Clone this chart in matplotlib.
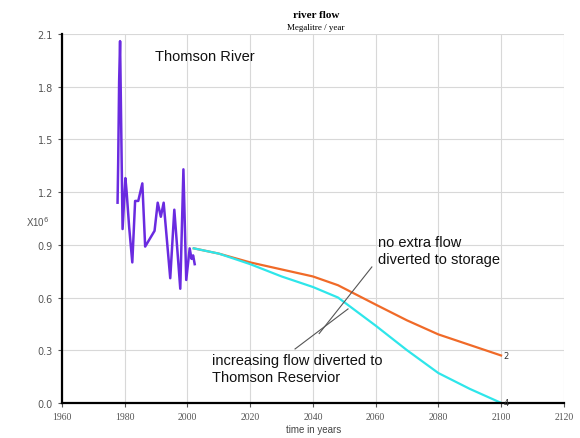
import matplotlib
matplotlib.use("Agg")
import matplotlib.pyplot as plt
import numpy as np

# historic Thomson River flow (x10^6 ML / year)
hist_years = [1977.7, 1977.9, 1978.2, 1978.5, 1978.9, 1979.3, 1980.2, 1980.6, 1981.4, 1982.4,
              1983.3, 1984.3, 1985.6, 1986.5, 1989.5, 1990.5, 1991.5, 1992.4, 1994.5, 1995.8,
              1997.7, 1998.7, 1999.6, 2000.7, 2001.3, 2001.8, 2002.3]
hist_flow = [1.14, 1.37, 1.83, 2.06, 1.52, 0.99, 1.28, 1.20, 1.00, 0.80,
             1.15, 1.15, 1.25, 0.89, 0.98, 1.14, 1.06, 1.14, 0.71, 1.10,
             0.65, 1.33, 0.70, 0.88, 0.82, 0.84, 0.79]

# projections
proj_years = [2002, 2010, 2020, 2030, 2040, 2048, 2060, 2070, 2080, 2090, 2100]
no_extra = [0.88, 0.85, 0.80, 0.76, 0.72, 0.67, 0.56, 0.47, 0.39, 0.33, 0.27]
increasing = [0.88, 0.85, 0.79, 0.72, 0.66, 0.60, 0.44, 0.30, 0.17, 0.08, 0.0]

x_ticks = [1960, 1980, 2000, 2020, 2040, 2060, 2080, 2100, 2120]
y_ticks = [0.0, 0.3, 0.6, 0.9, 1.2, 1.5, 1.8, 2.1]

fig = plt.figure(figsize=(5.8, 4.39), dpi=100)
ax = fig.add_axes([0.107, 0.080, 0.865, 0.840])

ax.plot(hist_years, hist_flow, color="#6a2be0", lw=1.8)
ax.plot(proj_years, no_extra, color="#f06a28", lw=1.6)
ax.plot(proj_years, increasing, color="#2ee6ea", lw=1.6)

ax.text(2100.8, no_extra[-1], "2", fontsize=6, va="center", color="#333333")
ax.text(2100.8, increasing[-1], "4", fontsize=6, va="center", color="#333333")

ax.set_xlim(1960, 2120)
ax.set_ylim(0, 2.1)
ax.set_xticks(x_ticks)
ax.set_yticks(y_ticks)
ax.set_yticklabels(["%.1f" % v for v in y_ticks])
ax.grid(True, color="#d8d8d8", lw=0.8)
ax.set_axisbelow(True)

for s in ["top", "right"]:
    ax.spines[s].set_visible(False)
for s in ["left", "bottom"]:
    ax.spines[s].set_linewidth(1.6)
ax.tick_params(direction="out", length=3, width=0.8, labelsize=7, labelcolor="#555555", colors="#555555")
for lab in ax.get_xticklabels():
    lab.set_family("Liberation Serif")

ax.text(1989.6, 1.975, "Thomson River", fontsize=10.5, family="Liberation Sans",
        va="center", color="#111111")
ax.text(2060.8, 0.955, "no extra flow\ndiverted to storage", fontsize=10.5,
        family="Liberation Sans", va="top", linespacing=1.25, color="#111111")
ax.text(2007.8, 0.285, "increasing flow diverted to\nThomson Reservior", fontsize=10.5,
        family="Liberation Sans", va="top", linespacing=1.25, color="#111111")

ax.plot([2058.8, 2042.0], [0.774, 0.395], color="#555555", lw=0.8)
ax.plot([2034.3, 2051.2], [0.307, 0.535], color="#555555", lw=0.8)

fig.text(0.545, 0.965, "river flow", ha="center", va="center", fontsize=8,
         family="Liberation Serif", weight="bold")
fig.text(0.545, 0.936, "Megalitre / year", ha="center", va="center", fontsize=6.5,
         family="Liberation Serif")
fig.text(0.54, 0.020, "time in years", ha="center", va="center", fontsize=7,
         family="Liberation Sans", color="#444444")
fig.text(0.065, 0.495, r"X10$^6$", ha="center", va="center", fontsize=7,
         family="Liberation Sans", color="#555555")

fig.savefig("out.png", dpi=100)
